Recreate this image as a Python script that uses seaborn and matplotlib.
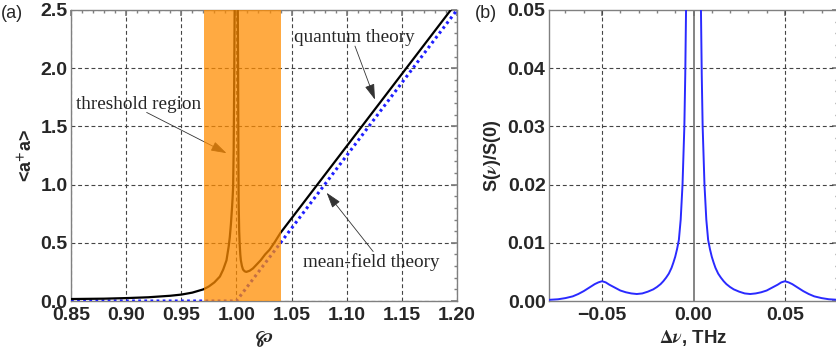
import matplotlib
matplotlib.use("Agg")
import matplotlib.pyplot as plt
import seaborn as sns
import pandas as pd
from matplotlib.ticker import MultipleLocator

# ---- panel (a): mean photon number vs pump parameter ----
phi_quantum = [0.85, 0.88, 0.90, 0.92, 0.94, 0.95, 0.96, 0.97, 0.975, 0.98, 0.985,
               0.988, 0.991, 0.993, 0.994, 0.995, 0.996, 0.9965, 0.997, 0.9975,
               0.998, 0.9985, 0.999, 1.000, 1.0005, 1.001, 1.0015, 1.0018, 1.002,
               1.0025, 1.003, 1.0035, 1.004, 1.005, 1.006, 1.0075, 1.009, 1.012,
               1.015, 1.018, 1.022, 1.026, 1.030, 1.035, 1.040, 1.10, 1.15, 1.20]
n_quantum = [0.017, 0.020, 0.025, 0.032, 0.045, 0.055, 0.072, 0.100, 0.125, 0.160,
             0.210, 0.270, 0.350, 0.470, 0.550, 0.660, 0.800, 0.880, 0.980, 1.300,
             1.900, 2.700, 3.500, 5.000, 4.000, 3.000, 2.000, 1.200, 0.850,
             0.600, 0.480, 0.400, 0.350, 0.300, 0.270, 0.255, 0.250, 0.260,
             0.280, 0.310, 0.350, 0.400, 0.440, 0.510, 0.586, 1.330, 1.950, 2.570]

phi_meanfield = [0.85, 1.00, 1.04, 1.20]
n_meanfield = [0.0, 0.0, 0.5, 2.5]

threshold_lo, threshold_hi = 0.971, 1.040

# ---- panel (b): normalised spectrum ----
dnu = [-0.079, -0.074, -0.070, -0.066, -0.063, -0.060, -0.057, -0.054, -0.052,
       -0.050, -0.048, -0.046, -0.043, -0.040, -0.037, -0.034, -0.031, -0.028,
       -0.025, -0.022, -0.020, -0.018, -0.0165, -0.015, -0.0135, -0.012, -0.011,
       -0.010, -0.009, -0.008, -0.007, -0.006, -0.005, -0.0045, -0.004, -0.0035,
       -0.003, 0.000,
       0.003, 0.0035, 0.004, 0.0045, 0.005, 0.006, 0.007, 0.008, 0.009, 0.010,
       0.011, 0.012, 0.0135, 0.015, 0.0165, 0.018, 0.020, 0.022, 0.025, 0.028,
       0.031, 0.034, 0.037, 0.040, 0.043, 0.046, 0.048, 0.050, 0.052, 0.054,
       0.057, 0.060, 0.063, 0.066, 0.070, 0.074, 0.079]
spectrum = [0.0002, 0.0003, 0.0005, 0.0008, 0.0012, 0.0017, 0.0023, 0.0029, 0.0032,
            0.0034, 0.0032, 0.0028, 0.0023, 0.0018, 0.0015, 0.0013, 0.0012, 0.0013,
            0.0016, 0.0020, 0.0024, 0.0029, 0.0034, 0.0040, 0.0047, 0.0057, 0.0066,
            0.0076, 0.0089, 0.0105, 0.0140, 0.0200, 0.0300, 0.0390, 0.0520, 0.0680,
            0.0900, 1.0000,
            0.0900, 0.0680, 0.0520, 0.0390, 0.0300, 0.0200, 0.0140, 0.0105, 0.0089,
            0.0076, 0.0066, 0.0057, 0.0047, 0.0040, 0.0034, 0.0029, 0.0024, 0.0020,
            0.0016, 0.0013, 0.0012, 0.0013, 0.0015, 0.0018, 0.0023, 0.0028, 0.0032,
            0.0034, 0.0032, 0.0029, 0.0023, 0.0017, 0.0012, 0.0008, 0.0005, 0.0003,
            0.0002]

sns.set_theme(style="white")
plt.rcParams["font.family"] = ["Liberation Sans", "DejaVu Sans"]
plt.rcParams["font.weight"] = "bold"
plt.rcParams["xtick.labelsize"] = 14
plt.rcParams["ytick.labelsize"] = 14
plt.rcParams["mathtext.fontset"] = "stix"

fig = plt.figure(figsize=(8.36, 3.63), dpi=100)
ax1 = fig.add_axes([71 / 836, 62 / 363, 386 / 836, 291 / 363])
ax2 = fig.add_axes([549 / 836, 62 / 363, 289 / 836, 291 / 363])

frame_col = "#808080"
grid_kw = dict(color="#444444", linestyle=(0, (3.5, 2.5)), linewidth=0.8)
serif = "Liberation Serif"


def style_frame(ax, xt, xl, yt, yl):
    for s in ax.spines.values():
        s.set_color(frame_col)
        s.set_linewidth(1.0)
    ax.set_xticks(xt)
    ax.set_xticklabels(xl, fontweight="bold", fontsize=14)
    ax.set_yticks(yt)
    ax.set_yticklabels(yl, fontweight="bold", fontsize=14)
    ax.tick_params(which="both", direction="in", top=True, right=True,
                   color=frame_col)
    ax.tick_params(which="major", length=4)
    ax.tick_params(which="minor", length=2.2)
    ax.tick_params(axis="x", pad=4)
    ax.tick_params(axis="y", pad=2.5)


# panel (a)
qdf = pd.DataFrame({"phi": phi_quantum, "n": n_quantum})
mdf = pd.DataFrame({"phi": phi_meanfield, "n": n_meanfield})
sns.lineplot(data=mdf, x="phi", y="n", ax=ax1, color="#1f1fff", lw=2.2,
             linestyle=(0, (0.9, 1.1)), sort=False, estimator=None, zorder=3)
sns.lineplot(data=qdf, x="phi", y="n", ax=ax1, color="black", lw=1.6,
             sort=False, estimator=None, zorder=4)
ax1.axvspan(threshold_lo, threshold_hi, color="#ff8c00", alpha=0.74, lw=0, zorder=5)

ax1.set_xlim(0.85, 1.20)
ax1.set_ylim(0, 2.5)
ax1.xaxis.set_minor_locator(MultipleLocator(0.01))
ax1.yaxis.set_minor_locator(MultipleLocator(0.1))
style_frame(ax1,
            [0.85, 0.90, 0.95, 1.00, 1.05, 1.10, 1.15, 1.20],
            ["0.85", "0.90", "0.95", "1.00", "1.05", "1.10", "1.15", "1.20"],
            [0.0, 0.5, 1.0, 1.5, 2.0, 2.5],
            ["0.0", "0.5", "1.0", "1.5", "2.0", "2.5"])
ax1.grid(True, which="major", **grid_kw)
ax1.set_axisbelow(True)
ax1.set_xlabel(r"$\wp$", fontsize=15, labelpad=4)
ax1.set_ylabel(r"<a$^{\mathbf{+}}$a>", fontsize=13, fontweight="bold", labelpad=3)

arrow_kw = dict(arrowstyle="-|>,head_length=0.8,head_width=0.25", color="#333333",
                lw=0.6, shrinkA=0, shrinkB=0)
ax1.text(0.911, 1.69, "threshold region", fontsize=13.8, family=serif,
         fontweight="normal", ha="center", va="center", zorder=6)
ax1.annotate("", xy=(0.991, 1.27), xytext=(0.9186, 1.62), arrowprops=arrow_kw)
ax1.text(1.1066, 2.26, "quantum theory", fontsize=13.8, family=serif,
         fontweight="normal", ha="center", va="center")
ax1.annotate("", xy=(1.1256, 1.73), xytext=(1.1075, 2.19), arrowprops=arrow_kw)
ax1.text(1.1224, 0.336, "mean-field theory", fontsize=13.8, family=serif,
         fontweight="normal", ha="center", va="center")
ax1.annotate("", xy=(1.0818, 0.93), xytext=(1.124, 0.425), arrowprops=arrow_kw)

# panel (b)
sdf = pd.DataFrame({"dnu": dnu, "S": spectrum})
ax2.axvline(0, color="#707070", lw=1.2, zorder=2)
sns.lineplot(data=sdf, x="dnu", y="S", ax=ax2, color="#2a2aff", lw=1.4,
             sort=False, estimator=None, zorder=3)
ax2.set_xlim(-0.079, 0.079)
ax2.set_ylim(0, 0.05)
ax2.xaxis.set_minor_locator(MultipleLocator(0.01))
ax2.yaxis.set_minor_locator(MultipleLocator(0.002))
style_frame(ax2,
            [-0.05, 0.0, 0.05],
            ["\u22120.05", "0.00", "0.05"],
            [0.0, 0.01, 0.02, 0.03, 0.04, 0.05],
            ["0.00", "0.01", "0.02", "0.03", "0.04", "0.05"])
for yv in [0.01, 0.02, 0.03, 0.04]:
    ax2.axhline(yv, zorder=1, **grid_kw)
for xv in [-0.05, 0.05]:
    ax2.axvline(xv, zorder=1, **grid_kw)
ax2.set_xlabel(r"$\Delta\nu$, THz", fontsize=13.5, fontweight="bold", labelpad=3)
ax2.set_ylabel(r"S($\nu$)/S(0)", fontsize=13, fontweight="bold", labelpad=3)

fig.text(12 / 836, 1 - 13 / 363, "(a)", fontsize=13, fontweight="normal",
         ha="center", va="center")
fig.text(486 / 836, 1 - 13 / 363, "(b)", fontsize=13, fontweight="normal",
         ha="center", va="center")

fig.savefig("out.png", dpi=100)
